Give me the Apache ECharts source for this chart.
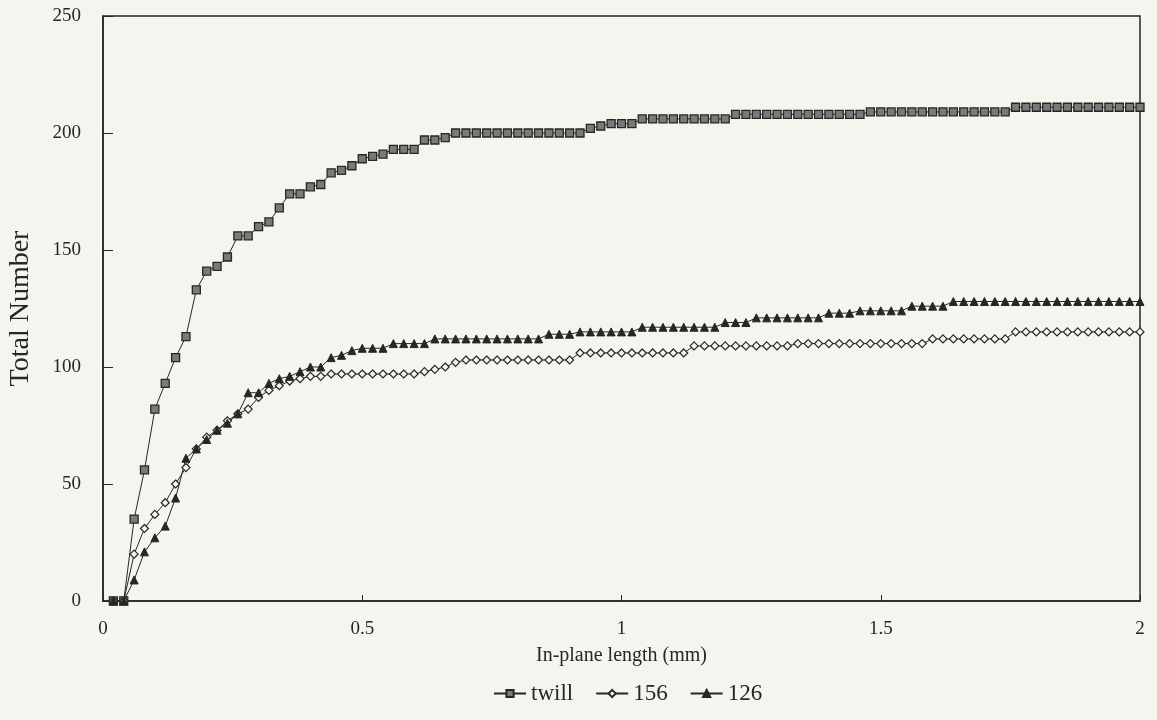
<!DOCTYPE html>
<html>
<head>
<meta charset="utf-8">
<script src="https://cdn.jsdelivr.net/npm/echarts@6/dist/echarts.min.js"></script>
<style>
html, body { margin: 0; padding: 0; background: #f6f4ef; }
#main { width: 1157px; height: 720px; }
</style>
</head>
<body>
<div id="main"></div>
<script>
// in-plane length (mm), one reading every 0.02 mm
var lengthMm = [
    0.02, 0.04, 0.06, 0.08, 0.10, 0.12, 0.14, 0.16, 0.18, 0.20,
    0.22, 0.24, 0.26, 0.28, 0.30, 0.32, 0.34, 0.36, 0.38, 0.40,
    0.42, 0.44, 0.46, 0.48, 0.50, 0.52, 0.54, 0.56, 0.58, 0.60,
    0.62, 0.64, 0.66, 0.68, 0.70, 0.72, 0.74, 0.76, 0.78, 0.80,
    0.82, 0.84, 0.86, 0.88, 0.90, 0.92, 0.94, 0.96, 0.98, 1.00,
    1.02, 1.04, 1.06, 1.08, 1.10, 1.12, 1.14, 1.16, 1.18, 1.20,
    1.22, 1.24, 1.26, 1.28, 1.30, 1.32, 1.34, 1.36, 1.38, 1.40,
    1.42, 1.44, 1.46, 1.48, 1.50, 1.52, 1.54, 1.56, 1.58, 1.60,
    1.62, 1.64, 1.66, 1.68, 1.70, 1.72, 1.74, 1.76, 1.78, 1.80,
    1.82, 1.84, 1.86, 1.88, 1.90, 1.92, 1.94, 1.96, 1.98, 2.00
];

var twill = [
    0, 0, 35, 56, 82, 93, 104, 113, 133, 141,
    143, 147, 156, 156, 160, 162, 168, 174, 174, 177,
    178, 183, 184, 186, 189, 190, 191, 193, 193, 193,
    197, 197, 198, 200, 200, 200, 200, 200, 200, 200,
    200, 200, 200, 200, 200, 200, 202, 203, 204, 204,
    204, 206, 206, 206, 206, 206, 206, 206, 206, 206,
    208, 208, 208, 208, 208, 208, 208, 208, 208, 208,
    208, 208, 208, 209, 209, 209, 209, 209, 209, 209,
    209, 209, 209, 209, 209, 209, 209, 211, 211, 211,
    211, 211, 211, 211, 211, 211, 211, 211, 211, 211
];

var s156 = [
    0, 0, 20, 31, 37, 42, 50, 57, 65, 70,
    73, 77, 80, 82, 87, 90, 92, 94, 95, 96,
    96, 97, 97, 97, 97, 97, 97, 97, 97, 97,
    98, 99, 100, 102, 103, 103, 103, 103, 103, 103,
    103, 103, 103, 103, 103, 106, 106, 106, 106, 106,
    106, 106, 106, 106, 106, 106, 109, 109, 109, 109,
    109, 109, 109, 109, 109, 109, 110, 110, 110, 110,
    110, 110, 110, 110, 110, 110, 110, 110, 110, 112,
    112, 112, 112, 112, 112, 112, 112, 115, 115, 115,
    115, 115, 115, 115, 115, 115, 115, 115, 115, 115
];

var s126 = [
    0, 0, 9, 21, 27, 32, 44, 61, 65, 69,
    73, 76, 80, 89, 89, 93, 95, 96, 98, 100,
    100, 104, 105, 107, 108, 108, 108, 110, 110, 110,
    110, 112, 112, 112, 112, 112, 112, 112, 112, 112,
    112, 112, 114, 114, 114, 115, 115, 115, 115, 115,
    115, 117, 117, 117, 117, 117, 117, 117, 117, 119,
    119, 119, 121, 121, 121, 121, 121, 121, 121, 123,
    123, 123, 124, 124, 124, 124, 124, 126, 126, 126,
    126, 128, 128, 128, 128, 128, 128, 128, 128, 128,
    128, 128, 128, 128, 128, 128, 128, 128, 128, 128
];

var seriesNames = ['twill', '156', '126'];

function pairs(ys) {
    return lengthMm.map(function (x, i) { return [x, ys[i]]; });
}

var ink = '#262626';
var serif = 'Liberation Serif';

var myChart = echarts.init(document.getElementById('main'));

var option = {
    backgroundColor: '#f6f4ef',
    animation: false,
    grid: {
        left: 103, right: 17, top: 16, bottom: 119,
        outerBoundsMode: 'none',
        show: true, borderColor: ink, borderWidth: 1.5,
        backgroundColor: 'transparent'
    },
    legend: {
        data: seriesNames,
        bottom: 10,
        left: 488,
        itemWidth: 32,
        itemHeight: 9,
        itemGap: 22,
        textStyle: { fontFamily: serif, fontSize: 23, color: ink }
    },
    xAxis: {
        type: 'value',
        min: 0, max: 2, interval: 0.5,
        name: 'In-plane length (mm)',
        nameLocation: 'middle',
        nameGap: 45,
        nameTextStyle: { fontFamily: serif, fontSize: 20, color: ink },
        axisLine: { lineStyle: { color: ink, width: 1.5 } },
        axisTick: { inside: true, length: 6, lineStyle: { color: ink } },
        axisLabel: { fontFamily: serif, fontSize: 19, color: ink, margin: 19 },
        splitLine: { show: false }
    },
    yAxis: {
        type: 'value',
        min: 0, max: 250, interval: 50,
        name: 'Total Number',
        nameLocation: 'middle',
        nameGap: 68,
        nameTextStyle: { fontFamily: serif, fontSize: 28, color: ink },
        axisLine: { show: true, lineStyle: { color: ink, width: 1.5 } },
        axisTick: { inside: true, length: 10, lineStyle: { color: ink } },
        axisLabel: { fontFamily: serif, fontSize: 19, color: ink, margin: 22 },
        splitLine: { show: false }
    },
    series: [
        {
            name: 'twill', type: 'line', data: pairs(twill),
            symbol: 'rect', symbolSize: 8,
            lineStyle: { color: ink, width: 1 },
            itemStyle: { color: '#7a7a7a', borderColor: ink, borderWidth: 1.3 }
        },
        {
            name: '156', type: 'line', data: pairs(s156),
            symbol: 'diamond', symbolSize: 8,
            lineStyle: { color: ink, width: 1 },
            itemStyle: { color: '#f6f4ef', borderColor: ink, borderWidth: 1.2 }
        },
        {
            name: '126', type: 'line', data: pairs(s126),
            symbol: 'triangle', symbolSize: 8,
            lineStyle: { color: ink, width: 1 },
            itemStyle: { color: ink, borderColor: ink, borderWidth: 1 }
        }
    ]
};

myChart.setOption(option);
</script>
</body>
</html>
